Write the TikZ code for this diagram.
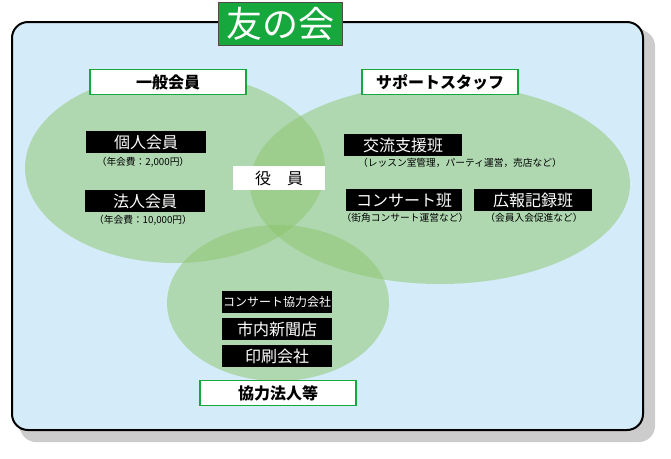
\documentclass[tikz,border=0pt]{standalone}
\usepackage{fontspec}
\setmainfont{Noto Sans CJK JP}
\definecolor{panel}{HTML}{D4EBF9}
\definecolor{tgreen}{HTML}{16A83C}
\definecolor{egreen}{HTML}{8CC66A}
\begin{document}
\begin{tikzpicture}[x=0.75pt,y=-0.75pt,
  lbl/.style={draw=tgreen,line width=0.8pt,fill=white,minimum width=117pt,minimum height=19pt,inner sep=0pt,font=\bfseries\fontsize{12}{12}\selectfont},
  blk/.style={fill=black,text=white,inner sep=0pt,minimum height=17pt,font=\fontsize{12}{12}\selectfont},
  sm/.style={font=\fontsize{7.3}{8}\selectfont,inner sep=0pt},
  ell/.style={fill=egreen,fill opacity=0.5}]
\useasboundingbox (0,0) rectangle (671,458);
\fill[black!45,rounded corners=12pt] (18,28) rectangle (651,438);
\fill[black!20,rounded corners=12pt] (20,30) rectangle (655,442);
\draw[line width=1.5pt,fill=panel,rounded corners=12pt] (12,22) rectangle (643,430);
\fill[ell] (175,168) ellipse [x radius=150,y radius=95];
\fill[ell] (440,184) ellipse [x radius=190,y radius=100];
\fill[ell] (278,303) ellipse [x radius=111,y radius=78];
\node[draw=black!70,fill=tgreen,text=white,minimum width=93pt,minimum height=32pt,inner sep=0pt,font=\fontsize{27}{27}\selectfont] (title) at (280,24) {友の会};
\node[lbl] (ippan) at (168,82) {一般会員};
\node[lbl] (support) at (440,82) {サポートスタッフ};
\node[lbl] (kyoryoku) at (278,393) {協力法人等};
\node[fill=white,minimum width=69pt,minimum height=18pt,inner sep=0pt,font=\fontsize{12}{12}\selectfont] (yakuin) at (279,178) {役\quad 員};
\node[blk,minimum width=90pt] (kojin) at (146,142) {個人会員};
\node[sm] (kojinfee) at (143,162) {（年会費：2,000円）};
\node[blk,minimum width=90pt] (hojin) at (145,201) {法人会員};
\node[sm] (hojinfee) at (143,220) {（年会費：10,000円）};
\node[blk,minimum width=88pt] (koryu) at (403,145) {交流支援班};
\node[sm] (koryunote) at (460,163) {（レッスン室管理，パーティ運営，売店など）};
\node[blk,minimum width=87pt] (concert) at (404,200) {コンサート班};
\node[sm] (concertnote) at (405,218) {（街角コンサート運営など）};
\node[blk,minimum width=88pt] (koho) at (533,200) {広報記録班};
\node[sm] (kohonote) at (534,218) {（会員入会促進など）};
\node[blk,minimum width=83pt,font=\fontsize{9}{9}\selectfont] (cc) at (277,302) {コンサート協力会社};
\node[blk,minimum width=83pt] (news) at (277,329) {市内新聞店};
\node[blk,minimum width=83pt] (print) at (277,356) {印刷会社};
\end{tikzpicture}
\end{document}
